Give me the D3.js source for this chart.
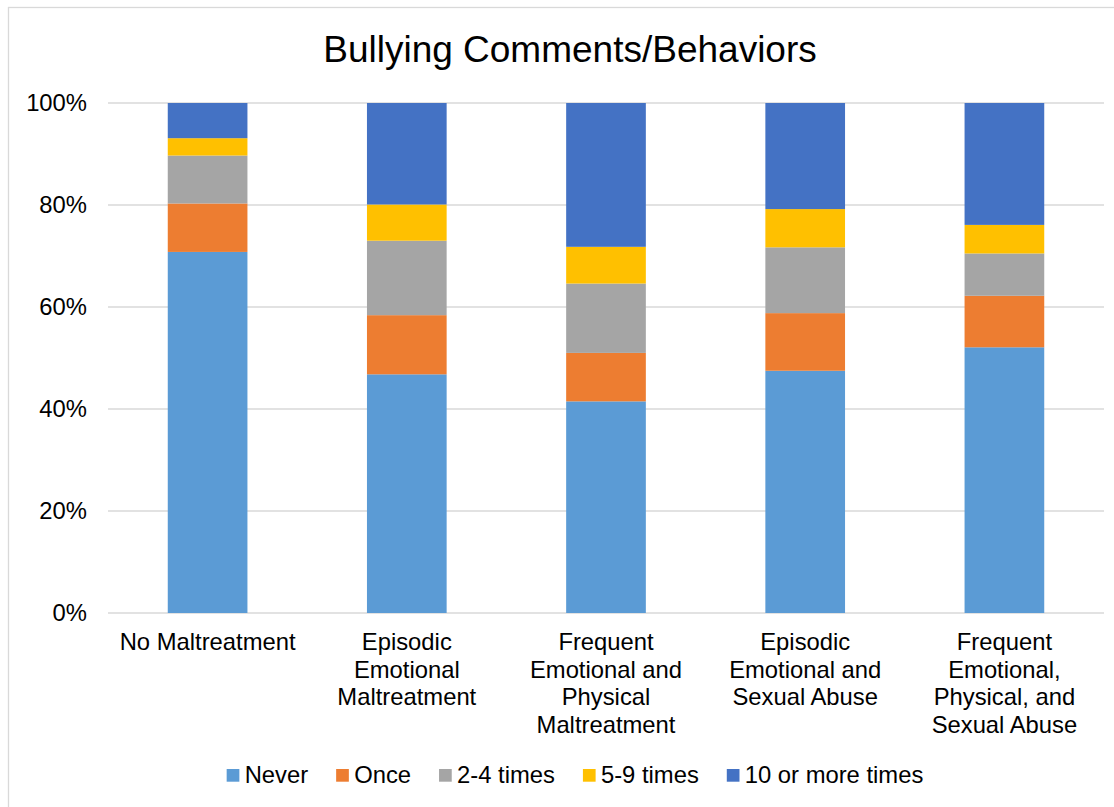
<!DOCTYPE html>
<html>
<head>
<meta charset="utf-8">
<script src="https://cdn.jsdelivr.net/npm/d3@7"></script>
<style>
  body { margin: 0; background: #fff; }
  svg { display: block; font-family: "Liberation Sans", Arial, sans-serif; }
</style>
</head>
<body>
<div id="chart"></div>
<script>
// categories (line breaks as in the original axis labels)
var categories = [
	"No Maltreatment",
	"Episodic\nEmotional\nMaltreatment",
	"Frequent\nEmotional and\nPhysical\nMaltreatment",
	"Episodic\nEmotional and\nSexual Abuse",
	"Frequent\nEmotional,\nPhysical, and\nSexual Abuse"
];

var seriesNames = ["Never", "Once", "2-4 times", "5-9 times", "10 or more times"];
var seriesColors = ["#5B9BD5", "#ED7D31", "#A5A5A5", "#FFC000", "#4472C4"];

// percent values per series, one entry per category
var never     = [70.8, 46.8, 41.5, 47.5, 52.1];
var once      = [9.5, 11.6, 9.5, 11.3, 10.1];
var twoFour   = [9.4, 14.6, 13.6, 12.9, 8.3];
var fiveNine  = [3.4, 7.1, 7.2, 7.5, 5.6];
var tenOrMore = [6.9, 19.9, 28.2, 20.8, 23.9];

var yTicks = [0, 0.2, 0.4, 0.6, 0.8, 1];

var width = 1114, height = 807;
var fontSize = 23.8;

var svg = d3.select("#chart")
	.append("svg")
	.attr("width", width)
	.attr("height", height);

// chart frame
svg.append("rect")
	.attr("x", 8.5).attr("y", 7.5)
	.attr("width", 1120).attr("height", 820)
	.attr("fill", "#fff")
	.attr("stroke", "#d9d9d9")
	.attr("stroke-width", 1.3);

svg.append("text")
	.attr("x", 570).attr("y", 62)
	.attr("text-anchor", "middle")
	.attr("font-size", 37)
	.attr("fill", "#000")
	.text("Bullying Comments/Behaviors");

// build table for stacking
var rows = categories.map(function (c, i) {
	return {
		cat: c,
		"Never": never[i] / 100,
		"Once": once[i] / 100,
		"2-4 times": twoFour[i] / 100,
		"5-9 times": fiveNine[i] / 100,
		"10 or more times": tenOrMore[i] / 100
	};
});
var stacked = d3.stack().keys(seriesNames)(rows);

var x = d3.scaleBand()
	.domain(categories)
	.range([108, 1104])
	.paddingInner(0.6)
	.paddingOuter(0.3);

var y = d3.scaleLinear()
	.domain([0, 1])
	.range([613, 103]);

// gridlines
svg.append("g")
	.selectAll("line")
	.data(yTicks)
	.join("line")
	.attr("x1", 108).attr("x2", 1104)
	.attr("y1", function (d) { return y(d); })
	.attr("y2", function (d) { return y(d); })
	.attr("stroke", "#d9d9d9")
	.attr("stroke-width", 1.5);

// y axis labels
var yAxis = svg.append("g")
	.attr("transform", "translate(108,0)")
	.call(d3.axisLeft(y).tickValues(yTicks).tickFormat(d3.format(".0%")).tickSize(0).tickPadding(21));
yAxis.select(".domain").remove();
yAxis.selectAll("text")
	.attr("font-size", fontSize)
	.attr("font-family", "\"Liberation Sans\", Arial, sans-serif")
	.attr("fill", "#000");

// bars
svg.append("g")
	.selectAll("g")
	.data(stacked)
	.join("g")
	.attr("fill", function (d, i) { return seriesColors[i]; })
	.selectAll("rect")
	.data(function (d) { return d; })
	.join("rect")
	.attr("x", function (d) { return x(d.data.cat); })
	.attr("y", function (d) { return y(d[1]); })
	.attr("height", function (d) { return y(d[0]) - y(d[1]); })
	.attr("width", x.bandwidth());

// category labels
var xLabels = svg.append("g")
	.selectAll("text")
	.data(categories)
	.join("text")
	.attr("text-anchor", "middle")
	.attr("font-size", fontSize)
	.attr("fill", "#000")
	.attr("transform", function (d) { return "translate(" + (x(d) + x.bandwidth() / 2) + ",650)"; });
xLabels.selectAll("tspan")
	.data(function (d) { return d.split("\n"); })
	.join("tspan")
	.attr("x", 0)
	.attr("y", function (d, i) { return i * 27.5; })
	.text(function (d) { return d; });

// legend
var legend = svg.append("g");
var items = legend.selectAll("g")
	.data(seriesNames)
	.join("g");
items.append("rect")
	.attr("width", 12.7).attr("height", 12.7)
	.attr("y", 769)
	.attr("fill", function (d, i) { return seriesColors[i]; });
items.append("text")
	.attr("x", 18)
	.attr("y", 783)
	.attr("font-size", fontSize)
	.attr("fill", "#000")
	.text(function (d) { return d; });

var widths = [];
items.each(function () { widths.push(d3.select(this).select("text").node().getComputedTextLength() + 18); });
var gap = 28;
var total = d3.sum(widths) + gap * (widths.length - 1);
var pos = 575 - total / 2;
items.attr("transform", function (d, i) {
	var t = "translate(" + pos + ",0)";
	pos += widths[i] + gap;
	return t;
});
</script>
</body>
</html>
